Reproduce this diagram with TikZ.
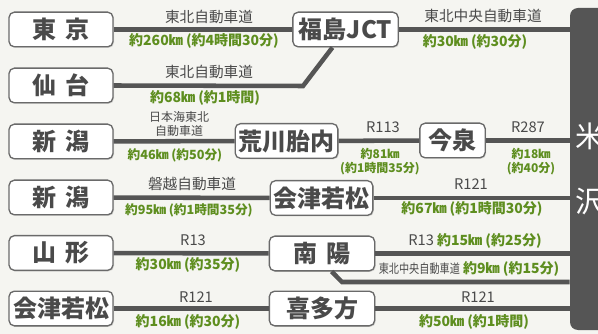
\documentclass[tikz,border=0pt]{standalone}
\usepackage{fontspec}
\setmainfont{Noto Sans CJK JP}
\usepackage{graphicx}
\usetikzlibrary{shadows}
\definecolor{bgc}{HTML}{F5F5F1}
\definecolor{linec}{HTML}{555555}
\definecolor{boxc}{HTML}{6A6A6A}
\definecolor{txtc}{HTML}{4A4A4A}
\definecolor{kmc}{HTML}{5E8E1F}
\tikzset{
	station/.style={draw=boxc, line width=1pt, fill=white, rounded corners=4pt, minimum width=78pt, minimum height=26pt, inner sep=0pt, text=txtc, font=\fontsize{18}{18}\selectfont\bfseries, drop shadow={shadow xshift=0.8pt, shadow yshift=-0.8pt, opacity=0.25}},
	route/.style={draw=linec, line width=3.4pt},
	road/.style={text=txtc, inner sep=0.75pt, font=\fontsize{11}{11}\selectfont},
	dist/.style={text=kmc, inner sep=0.75pt, font=\fontsize{10.5}{10.5}\selectfont\bfseries},
	tiny/.style={text=txtc, inner sep=0.75pt, align=center, font=\fontsize{9}{10.5}\selectfont},
	tinydist/.style={text=kmc, inner sep=0.75pt, align=center, font=\fontsize{9}{10.5}\selectfont\bfseries},
}

\begin{document}
\begin{tikzpicture}[x=0.75pt,y=0.75pt,yscale=-1,xscale=1]
		\useasboundingbox (0,0) rectangle (598,334);
		\fill[bgc] (0,0) rectangle (598,334);
		\node[fill=linec, rounded corners=6pt, minimum width=30pt, minimum height=241.5pt, inner sep=0pt, text=white, align=center, font=\fontsize{22}{48.75}\selectfont] (yonezawa) at (590,169) {米\\沢};

		\node[station] (tokyo) at (61,29.5) {東\hspace{0.4em}京};
		\node[station, minimum width=79pt] (fukushima) at (345.5,29.5) {福島JCT};
		\node[station] (sendai) at (61,85.5) {仙\hspace{0.4em}台};
		\node[station] (niigata1) at (61,141.5) {新\hspace{0.4em}潟};
		\node[station, minimum width=77pt] (arakawa) at (286.5,141) {荒川胎内};
		\node[station, minimum width=49pt] (imaizumi) at (452.5,140.5) {今泉};
		\node[station] (niigata2) at (61,197.5) {新\hspace{0.4em}潟};
		\node[station, minimum width=77pt] (aizu1) at (321.5,198) {会津若松};
		\node[station] (yamagata) at (61,253) {山\hspace{0.4em}形};
		\node[station, minimum width=79pt] (nanyo) at (322,253.5) {南\hspace{0.4em}陽};
		\node[station] (aizu2) at (61,308.5) {会津若松};
		\node[station, minimum width=79pt] (kitakata) at (322,308.5) {喜多方};

		\coordinate (sbend) at (303,86);
		\coordinate (nbend) at (342,282);
		\draw[route] (tokyo) -- (fukushima);
		\draw[route] (fukushima) -- (fukushima -| yonezawa.west);
		\draw[route] (sendai.east) -- (sbend) -- (fukushima.234);
		\draw[route] (niigata1) -- (arakawa);
		\draw[route] (arakawa) -- (imaizumi);
		\draw[route] (imaizumi) -- (imaizumi -| yonezawa.west);
		\draw[route] (niigata2) -- (aizu1);
		\draw[route] (aizu1) -- (aizu1 -| yonezawa.west);
		\draw[route] (yamagata) -- (nanyo);
		\draw[route] (nanyo) -- (nanyo -| yonezawa.west);
		\draw[route] (nanyo.298) -- (nbend) -- (nbend -| yonezawa.west);
		\draw[route] (aizu2) -- (kitakata);
		\draw[route] (kitakata) -- (kitakata -| yonezawa.west);

		\node[road] (tokyoroad) at (209,17) {東北自動車道};
		\node[dist] (tokyodist) at (204,41) {約260㎞ (約4時間30分)};
		\node[road] (fukushimaroad) at (483,16) {東北中央自動車道};
		\node[dist] (fukushimadist) at (475,42) {約30㎞ (約30分)};
		\node[road] (sendairoad) at (209,72) {東北自動車道};
		\node[dist] (sendaidist) at (205,98) {約68㎞ (約1時間)};
		\node[tiny] (niigata1road) at (179,124) {日本海東北\\自動車道};
		\node[dist, font=\fontsize{9.5}{10}\selectfont\bfseries] (niigata1dist) at (175,155) {約46㎞ (約50分)};
		\node[road] (arakawaroad) at (383,127) {R113};
		\node[tinydist] (arakawadist) at (380,162) {約81㎞\\(約1時間35分)};
		\node[road] (imaizumiroad) at (528,127) {R287};
		\node[tinydist] (imaizumidist) at (531,162) {約18㎞\\(約40分)};
		\node[road] (niigata2road) at (192,184) {磐越自動車道};
		\node[dist, font=\fontsize{9.5}{10}\selectfont\bfseries] (niigata2dist) at (189,210) {約95㎞ (約1時間35分)};
		\node[road] (aizu1road) at (471,184) {R121};
		\node[dist] (aizu1dist) at (472,209) {約67㎞ (約1時間30分)};
		\node[road] (yamagataroad) at (193,240) {R13};
		\node[dist] (yamagatadist) at (188,265) {約30㎞ (約35分)};
		\node[road] (nanyoroad) at (475,241) {R13 \textcolor{kmc}{\bfseries\fontsize{10.5}{10.5}\selectfont 約15㎞ (約25分)}};
		\node[road] (nanyoroad2) at (469,269) {\scalebox{0.8}[1]{\fontsize{9.5}{10}\selectfont 東北中央自動車道} \textcolor{kmc}{\bfseries\fontsize{10.5}{10.5}\selectfont 約9㎞ (約15分)}};
		\node[road] (aizu2road) at (196,297) {R121};
		\node[dist] (aizu2dist) at (188,322) {約16㎞ (約30分)};
		\node[road] (kitakataroad) at (478,297) {R121};
		\node[dist] (kitakatadist) at (474,322) {約50㎞ (約1時間)};
	\end{tikzpicture}
\end{document}
